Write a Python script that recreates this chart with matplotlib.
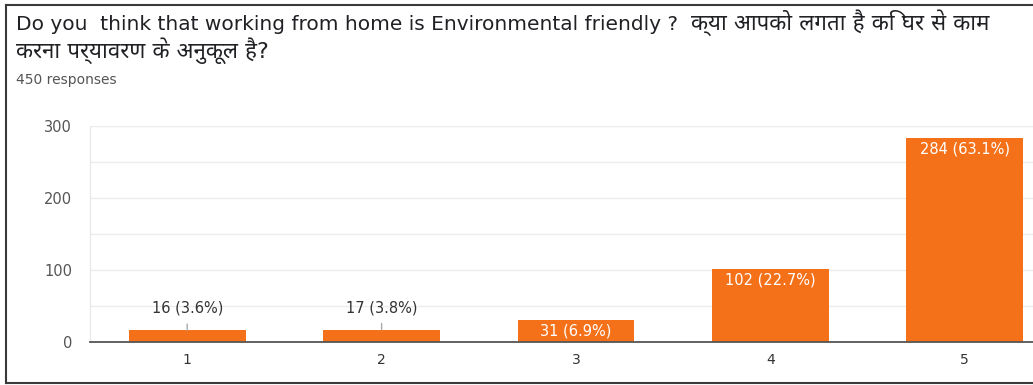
import matplotlib
matplotlib.use("Agg")
import matplotlib.pyplot as plt
from matplotlib.lines import Line2D
import logging

logging.getLogger("matplotlib.font_manager").setLevel(logging.ERROR)

# data
categories = ["1", "2", "3", "4", "5"]
counts = [16, 17, 31, 102, 284]
percents = [3.6, 3.8, 6.9, 22.7, 63.1]
yticks = [0, 100, 200, 300]

title_en = "Do you  think that working from home is Environmental friendly ?  "
title_hi1 = "क्या आपको लगता है कि घर से काम"
title_hi2 = "करना पर्यावरण के अनुकूल है?"
subtitle = "450 responses"

fams = ["DejaVu Sans", "Noto Sans Devanagari", "Hind", "Mukta", "Annapurna SIL"]
plt.rcParams["font.family"] = fams

W, H = 1033, 385
fig = plt.figure(figsize=(W / 100, H / 100), dpi=100)

# frame around the card (left, top, bottom edges visible)
frame_col = "#3a3a3a"
fig.add_artist(Line2D([6 / W, 6 / W], [1 - 5 / H, 1 - 383 / H], color=frame_col, lw=1.5))
fig.add_artist(Line2D([6 / W, 1], [1 - 5 / H, 1 - 5 / H], color=frame_col, lw=1.5))
fig.add_artist(Line2D([6 / W, 1], [1 - 383 / H, 1 - 383 / H], color=frame_col, lw=1.5))

t1 = fig.text(16 / W, 1 - 30 / H, title_en, fontsize=14.5, color="#202124",
              va="baseline", ha="left")
# hindi part continues on the same line, right after the english part
fig.canvas.draw()
x_end = t1.get_window_extent().x1 / W
fig.text(x_end, 1 - 30 / H, title_hi1, fontsize=16, color="#202124",
         va="baseline", ha="left")
fig.text(16 / W, 1 - 58 / H, title_hi2, fontsize=16, color="#202124",
         va="baseline", ha="left")
fig.text(16 / W, 1 - 80 / H, subtitle, fontsize=10, color="#555555",
         va="center", ha="left")

ax = fig.add_axes([90 / W, 43 / H, 972 / W, 216 / H])
bar_col = "#F4711A"
x = range(len(categories))
ax.bar(x, counts, width=0.6, color=bar_col, zorder=3)

ax.set_xlim(-0.5, len(categories) - 0.5)
ax.set_ylim(0, 300)
ax.set_xticks(list(x))
ax.set_xticklabels(categories)
ax.set_yticks(yticks)
ax.set_yticks([50, 150, 250], minor=True)
ax.grid(axis="y", which="both", color="#ececec", lw=1, zorder=0)
ax.tick_params(axis="x", length=0, pad=8, labelsize=10, labelcolor="#333333")
ax.tick_params(axis="y", which="both", length=0, pad=13, labelsize=10.5, labelcolor="#555555")

for s in ["top", "right"]:
    ax.spines[s].set_visible(False)
ax.spines["left"].set_color("#e6e6e6")
ax.spines["bottom"].set_color("#555555")
ax.spines["bottom"].set_linewidth(1.3)
ax.spines["bottom"].set_zorder(4)

for i, (c, p) in enumerate(zip(counts, percents)):
    label = f"{c} ({p}%)"
    if c >= 30:
        ax.annotate(label, xy=(i, c), xytext=(0, -8.5), textcoords="offset points",
                    ha="center", va="center", fontsize=10.5, color="white", zorder=5)
    else:
        ax.annotate(label, xy=(i, c), xytext=(0, 16), textcoords="offset points",
                    ha="center", va="center", fontsize=10.5, color="#333333", zorder=5,
                    arrowprops=dict(arrowstyle="-", color="#aaaaaa", lw=1,
                                    shrinkA=4, shrinkB=0))

fig.savefig("out.png", dpi=100)
